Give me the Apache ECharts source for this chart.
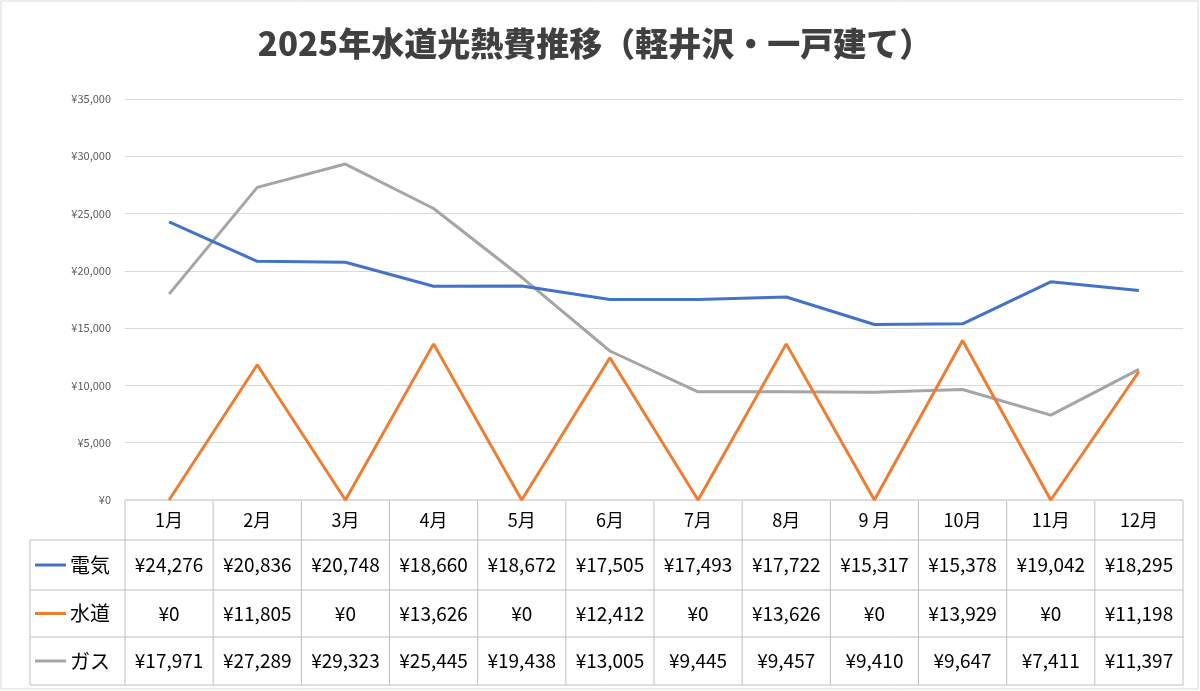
<!DOCTYPE html>
<html><head><meta charset="utf-8">
<script src="https://cdn.jsdelivr.net/npm/echarts@6/dist/echarts.min.js"></script>
<style>html,body{margin:0;padding:0;background:#fff}#c{width:1200px;height:691px}</style>
</head><body><div id="c"></div>
<script>
const months = ['1月','2月','3月','4月','5月','6月','7月','8月','9 月','10月','11月','12月'];
const denki = [24276,20836,20748,18660,18672,17505,17493,17722,15317,15378,19042,18295];
const suido = [0,11805,0,13626,0,12412,0,13626,0,13929,0,11198];
const gas = [17971,27289,29323,25445,19438,13005,9445,9457,9410,9647,7411,11397];
const seriesNames = ['電気','水道','ガス'];
const colors = ['#4472C4','#ED7D31','#A5A5A5'];
const yTicks = {min:0,max:35000,interval:5000};

const L=125,R=1183,T=99,B=500;
const rowsY=[540,590,637,685];
const font='"Noto Sans CJK JP","Noto Sans",sans-serif';
const fmt=v=>'¥'+v.toLocaleString('en-US');
const cw=(R-L)/months.length;
const g=[];
g.push({type:'rect',shape:{x:1,y:1,width:1197,height:688},style:{fill:'none',stroke:'#d9d9d9',lineWidth:1}});
const lineStyle={stroke:'#bfbfbf',lineWidth:1};
g.push({type:'line',shape:{x1:L,y1:B,x2:R,y2:B},style:lineStyle});
rowsY.forEach(y=>g.push({type:'line',shape:{x1:30,y1:y,x2:R,y2:y},style:lineStyle}));
for(let i=0;i<=months.length;i++){
  const x=L+i*cw;
  g.push({type:'line',shape:{x1:x,y1:B,x2:x,y2:rowsY[3]},style:lineStyle});
}
g.push({type:'line',shape:{x1:30,y1:rowsY[0],x2:30,y2:rowsY[3]},style:lineStyle});
months.forEach((m,i)=>g.push({type:'text',x:L+(i+0.5)*cw,y:(B+rowsY[0])/2,style:{text:m,font:'18px '+font,fill:'#000',align:'center',verticalAlign:'middle'}}));
const data=[denki,suido,gas];
data.forEach((arr,r)=>{
  const cy=(rowsY[r]+rowsY[r+1])/2;
  g.push({type:'line',shape:{x1:35,y1:cy,x2:66,y2:cy},style:{stroke:colors[r],lineWidth:3}});
  g.push({type:'text',x:70,y:cy,style:{text:seriesNames[r],font:'20px '+font,fill:'#000',verticalAlign:'middle'}});
  arr.forEach((v,i)=>g.push({type:'text',x:L+(i+0.5)*cw,y:cy,style:{text:fmt(v),font:'19px '+font,fill:'#000',align:'center',verticalAlign:'middle'}}));
});
const chart=echarts.init(document.getElementById('c'));
chart.setOption({
  animation:false,
  title:{text:'2025年水道光熱費推移（軽井沢・一戸建て）',left:590,top:22,textAlign:'center',textStyle:{fontFamily:font,fontSize:33,fontWeight:900,color:'#404040'}},
  grid:{left:L,right:1200-R,top:T,bottom:691-B},
  xAxis:{type:'category',data:months,boundaryGap:true,axisLine:{show:false},axisTick:{show:false},axisLabel:{show:false}},
  yAxis:{type:'value',min:yTicks.min,max:yTicks.max,interval:yTicks.interval,axisLine:{show:false},axisTick:{show:false},
    splitLine:{lineStyle:{color:'#d9d9d9'}},axisLabel:{formatter:v=>fmt(v),fontSize:11,color:'#595959',fontFamily:font,margin:14}},
  series:data.map((arr,i)=>({name:seriesNames[i],type:'line',data:arr,symbol:'none',lineStyle:{color:colors[i],width:3},z:3-i})),
  graphic:g
});
</script></body></html>
